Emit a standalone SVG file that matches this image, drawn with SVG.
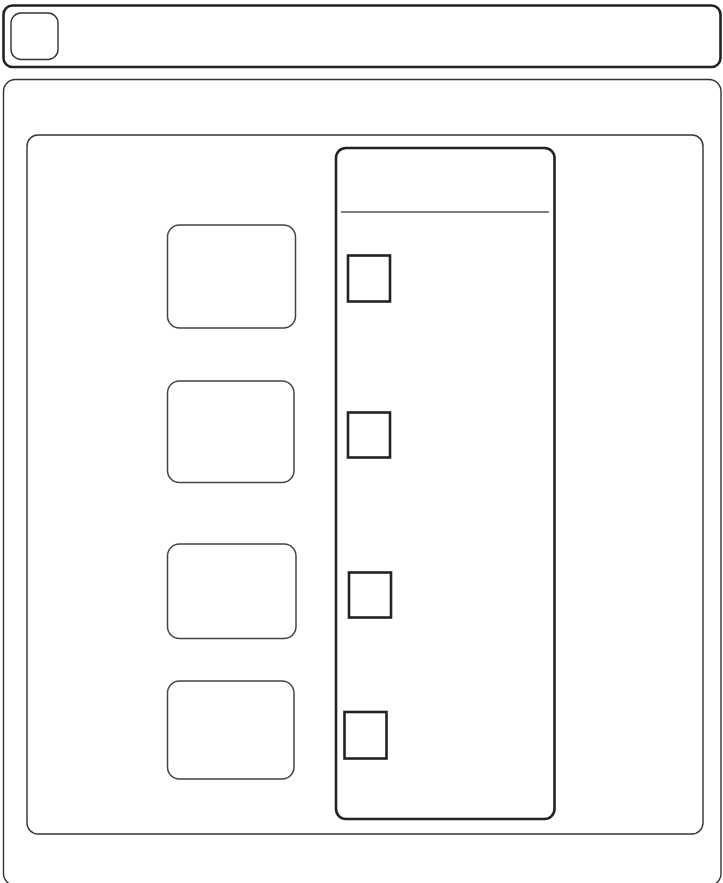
<svg xmlns="http://www.w3.org/2000/svg" width="723" height="883" viewBox="0 0 723 883">
<style>
.thin{fill:none;stroke:#333;stroke-width:1.4}
.thick{fill:none;stroke:#222;stroke-width:2.6}
.box{fill:#fff;stroke:#444;stroke-width:1.5}
.sq{fill:#fff;stroke:#222;stroke-width:2.6}
</style>
<rect width="723" height="883" fill="#fff"/>
<g id="header">
<rect class="thick" x="3.5" y="5.5" width="717" height="61.5" rx="9"/>
<rect class="thin" x="11" y="13" width="47" height="46.5" rx="10"/>
</g>
<g id="outer-panel">
<rect class="thin" x="3.5" y="79.5" width="717.5" height="806" rx="12"/>
</g>
<g id="inner-panel">
<rect class="thin" x="27" y="135" width="676" height="699" rx="11"/>
</g>
<g id="column">
<rect class="thick" x="336" y="148" width="218.5" height="671" rx="10"/>
<line x1="341" y1="212" x2="549" y2="212" stroke="#555" stroke-width="1.5"/>
</g>
<g id="box1"><rect class="box" x="167.5" y="225" width="128" height="103" rx="12"/></g>
<g id="box2"><rect class="box" x="167.5" y="381" width="126.5" height="101.5" rx="12"/></g>
<g id="box3"><rect class="box" x="167.5" y="544" width="128.5" height="94.5" rx="12"/></g>
<g id="box4"><rect class="box" x="167.5" y="681" width="126.5" height="98" rx="12"/></g>
<g id="sq1"><rect class="sq" x="348" y="255.5" width="42" height="46"/></g>
<g id="sq2"><rect class="sq" x="348" y="412.5" width="42" height="45"/></g>
<g id="sq3"><rect class="sq" x="349" y="572.5" width="42" height="45"/></g>
<g id="sq4"><rect class="sq" x="344.5" y="712" width="42" height="46.5"/></g>
<g id="connectors"></g>
</svg>
